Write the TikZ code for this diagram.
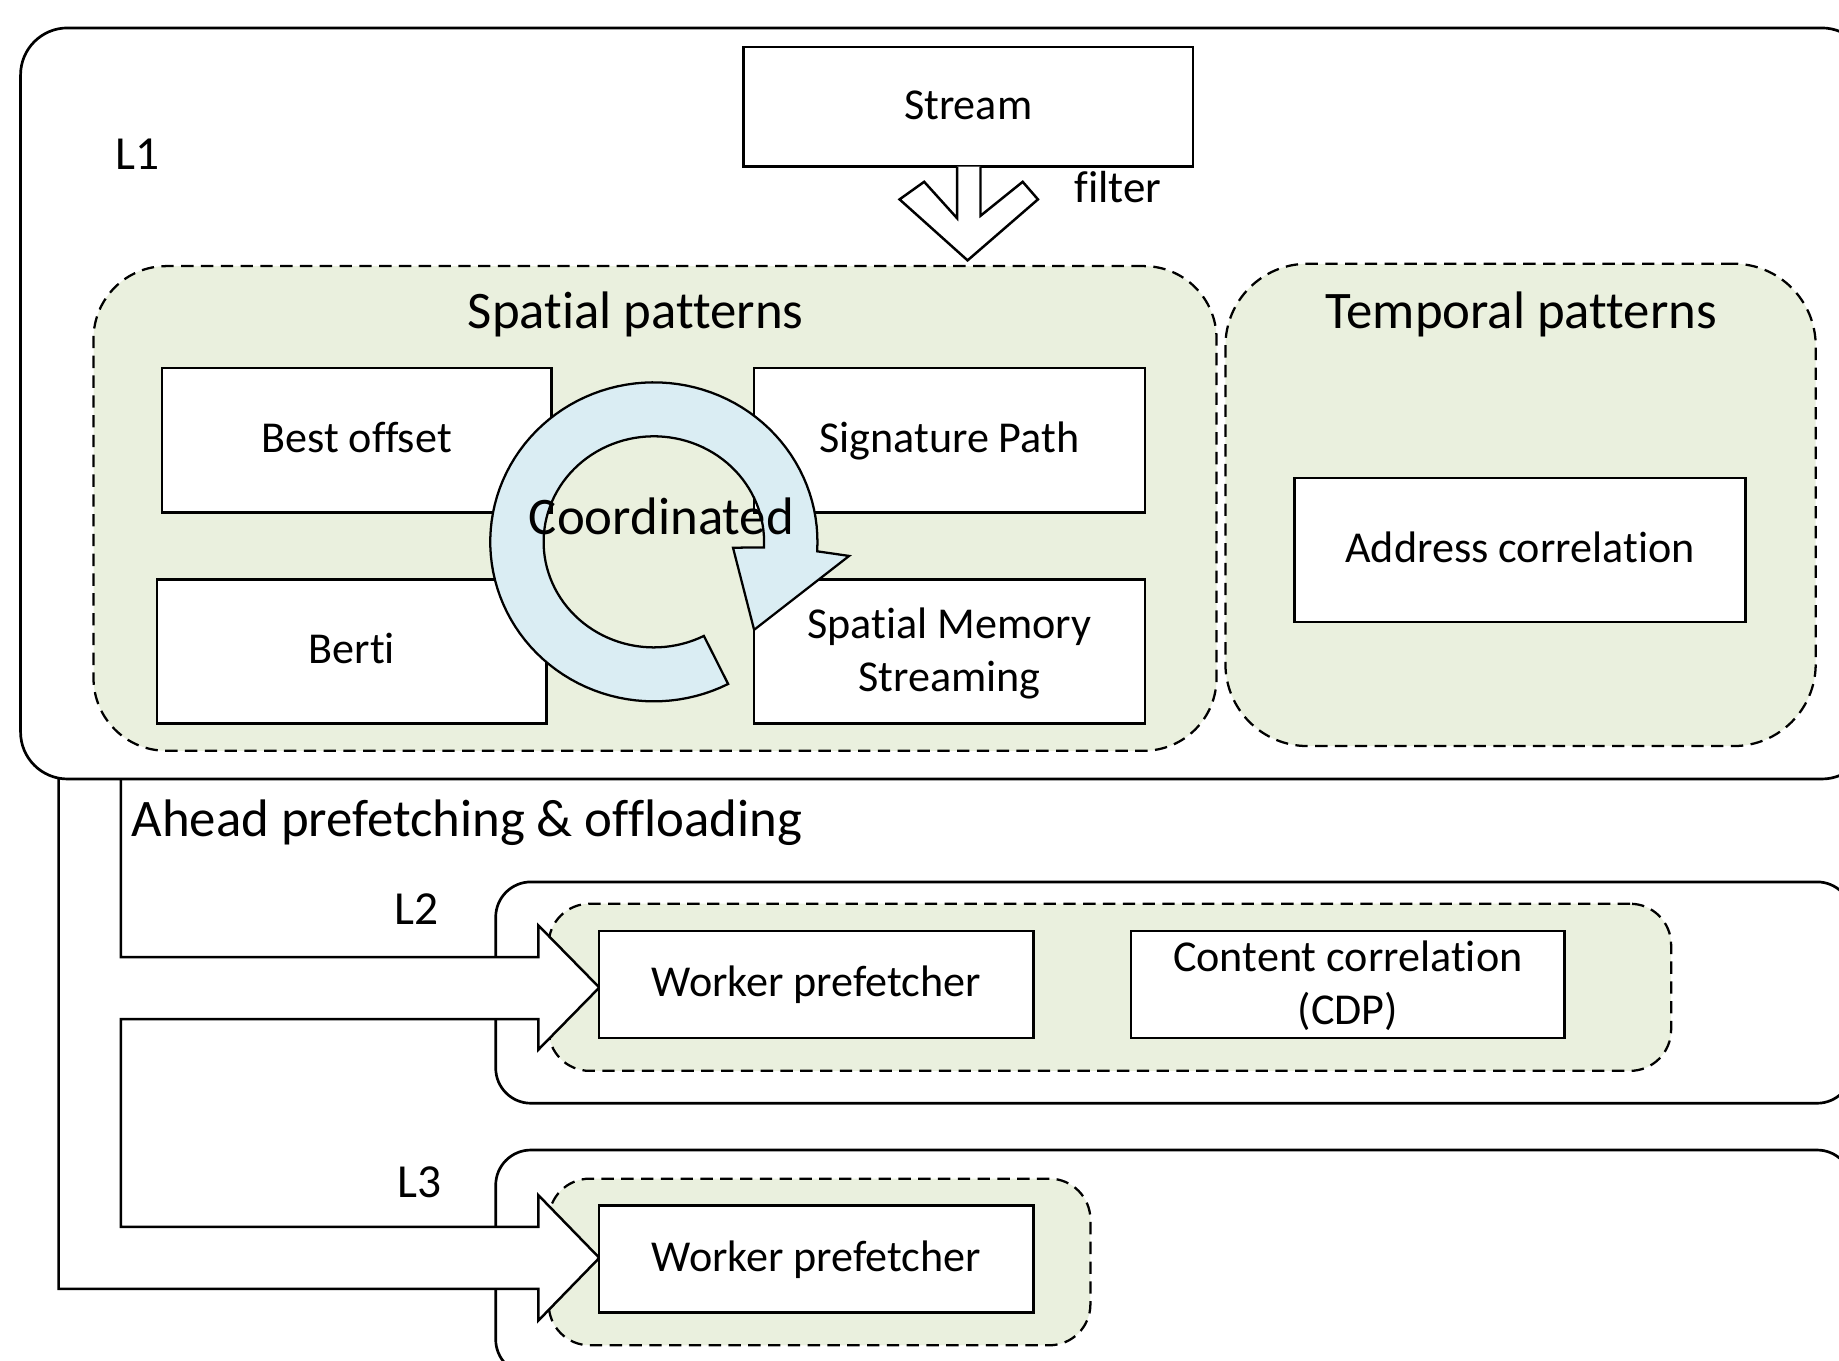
\documentclass[tikz,border=0pt]{standalone}
\usepackage{fontspec}
\setmainfont{Carlito}[Ligatures=NoCommon]
\definecolor{patterngreen}{RGB}{234,240,222}
\definecolor{cyclefill}{RGB}{218,237,243}
\tikzset{
  unit/.style={draw=black, line width=0.6pt, fill=white, inner sep=0pt, align=center,
    font=\fontsize{10.7}{12.8}\selectfont, text height=0.85em, text depth=0.25em},
  twoline/.style={text height=21.9pt},
  level/.style={draw=black, line width=0.65pt, inner sep=0pt},
  group/.style={draw=black, line width=0.55pt, dash pattern=on 3pt off 1.8pt,
    fill=patterngreen, inner sep=0pt},
  heading/.style={inner sep=0pt, font=\fontsize{12.8}{15.4}\selectfont},
  tag/.style={inner sep=0pt, font=\fontsize{11.5}{13.8}\selectfont},
  note/.style={inner sep=0pt, font=\fontsize{10.9}{13}\selectfont},
  hollowarrow/.style={draw=black, line width=0.6pt, fill=white, line join=miter},
}
\begin{document}
\begin{tikzpicture}[x=0.01cm, y=-0.01cm]
\useasboundingbox (0,0) rectangle (1568,1160);
\clip (0,0) rectangle (1568,1160);

% lower cache levels
\node[level, rounded corners=0.3cm, minimum width=11.56cm, minimum height=1.886cm] (l2) at (1001,846.3) {};
\node[level, rounded corners=0.3cm, minimum width=11.56cm, minimum height=1.914cm] (l3) at (1001,1076.3) {};
\node[group, rounded corners=0.35cm, minimum width=9.566cm, minimum height=1.424cm] (l2grp) at (946.3,841.8) {};
\node[group, rounded corners=0.35cm, minimum width=4.616cm, minimum height=1.42cm] (l3grp) at (698.8,1076) {};

% ahead prefetching block arrow branching to L2 and L3
\draw[hollowarrow] (50,664) -- (50,1099) -- (459,1099) -- (459,1126) -- (511,1072.5)
  -- (459,1019) -- (459,1046) -- (103,1046) -- (103,869) -- (459,869) -- (459,895)
  -- (511,842) -- (459,789) -- (459,816) -- (103,816) -- (103,664);

% L1 level
\node[level, rounded corners=0.4cm, minimum width=15.75cm, minimum height=6.4cm] (l1) at (805.5,344) {};
\node[group, rounded corners=0.62cm, minimum width=9.57cm, minimum height=4.13cm] (spatial) at (558.5,433.5) {};
\node[group, rounded corners=0.7cm, minimum width=5.03cm, minimum height=4.11cm] (temporal) at (1296.5,430.5) {};

% stream prefetcher and filter arrow
\node[unit, minimum width=3.83cm, minimum height=1.02cm] (stream) at (825.5,91) {Stream};
\draw[hollowarrow] (816,142) -- (816,186) -- (788,155) -- (767,170) -- (825,222)
  -- (885,170) -- (872,155) -- (836,184) -- (836,142);
\node[note, anchor=base west] (filter) at (915.4,172.8) {filter};

% spatial prefetchers
\node[unit, minimum width=3.32cm, minimum height=1.23cm] (best) at (304,375.5) {Best offset};
\node[unit, minimum width=3.33cm, minimum height=1.23cm] (sig) at (809.5,375.5) {Signature Path};
\node[unit, minimum width=3.32cm, minimum height=1.23cm] (berti) at (300,555.5) {Berti};
\node[unit, twoline, minimum width=3.33cm, minimum height=1.23cm] (sms) at (809.5,555.5) {Spatial Memory\\Streaming};

% coordination cycle
\draw[fill=cyclefill, line width=0.55pt, line join=miter]
  plot[domain=63:363.4, samples=100, variable=\t] ({557.5+139.5*cos(\t)}, {462+136*sin(\t)})
  -- (724,474) -- (643,537) -- (625,467)
  -- plot[domain=363:63, samples=100, variable=\t] ({557.5+94*cos(\t)}, {462+90*sin(\t)})
  -- cycle;
\node[heading, anchor=base] (coord) at (564,456) {Coordinated};

% temporal prefetcher
\node[unit, minimum width=3.84cm, minimum height=1.23cm] (addr) at (1296,469) {Address correlation};

% L2 / L3 prefetchers
\node[unit, minimum width=3.70cm, minimum height=0.91cm] (wp2) at (696,839.5) {Worker prefetcher};
\node[unit, twoline, minimum width=3.695cm, minimum height=0.91cm] (cdp) at (1149.25,839.5) {Content correlation\\(CDP)};
\node[unit, minimum width=3.70cm, minimum height=0.91cm] (wp3) at (696,1073.5) {Worker prefetcher};

% labels
\node[heading, anchor=base] (sptitle) at (542,280) {Spatial patterns};
\node[heading, anchor=base] (tptitle) at (1297,280) {Temporal patterns};
\node[tag, anchor=base west] (l1tag) at (97.5,144.4) {L1};
\node[tag, anchor=base west] (l2tag) at (336,788) {L2};
\node[tag, anchor=base west] (l3tag) at (338,1020.6) {L3};
\node[heading, anchor=base west] (ahead) at (111.5,713) {Ahead prefetching \& offloading};
\end{tikzpicture}
\end{document}
